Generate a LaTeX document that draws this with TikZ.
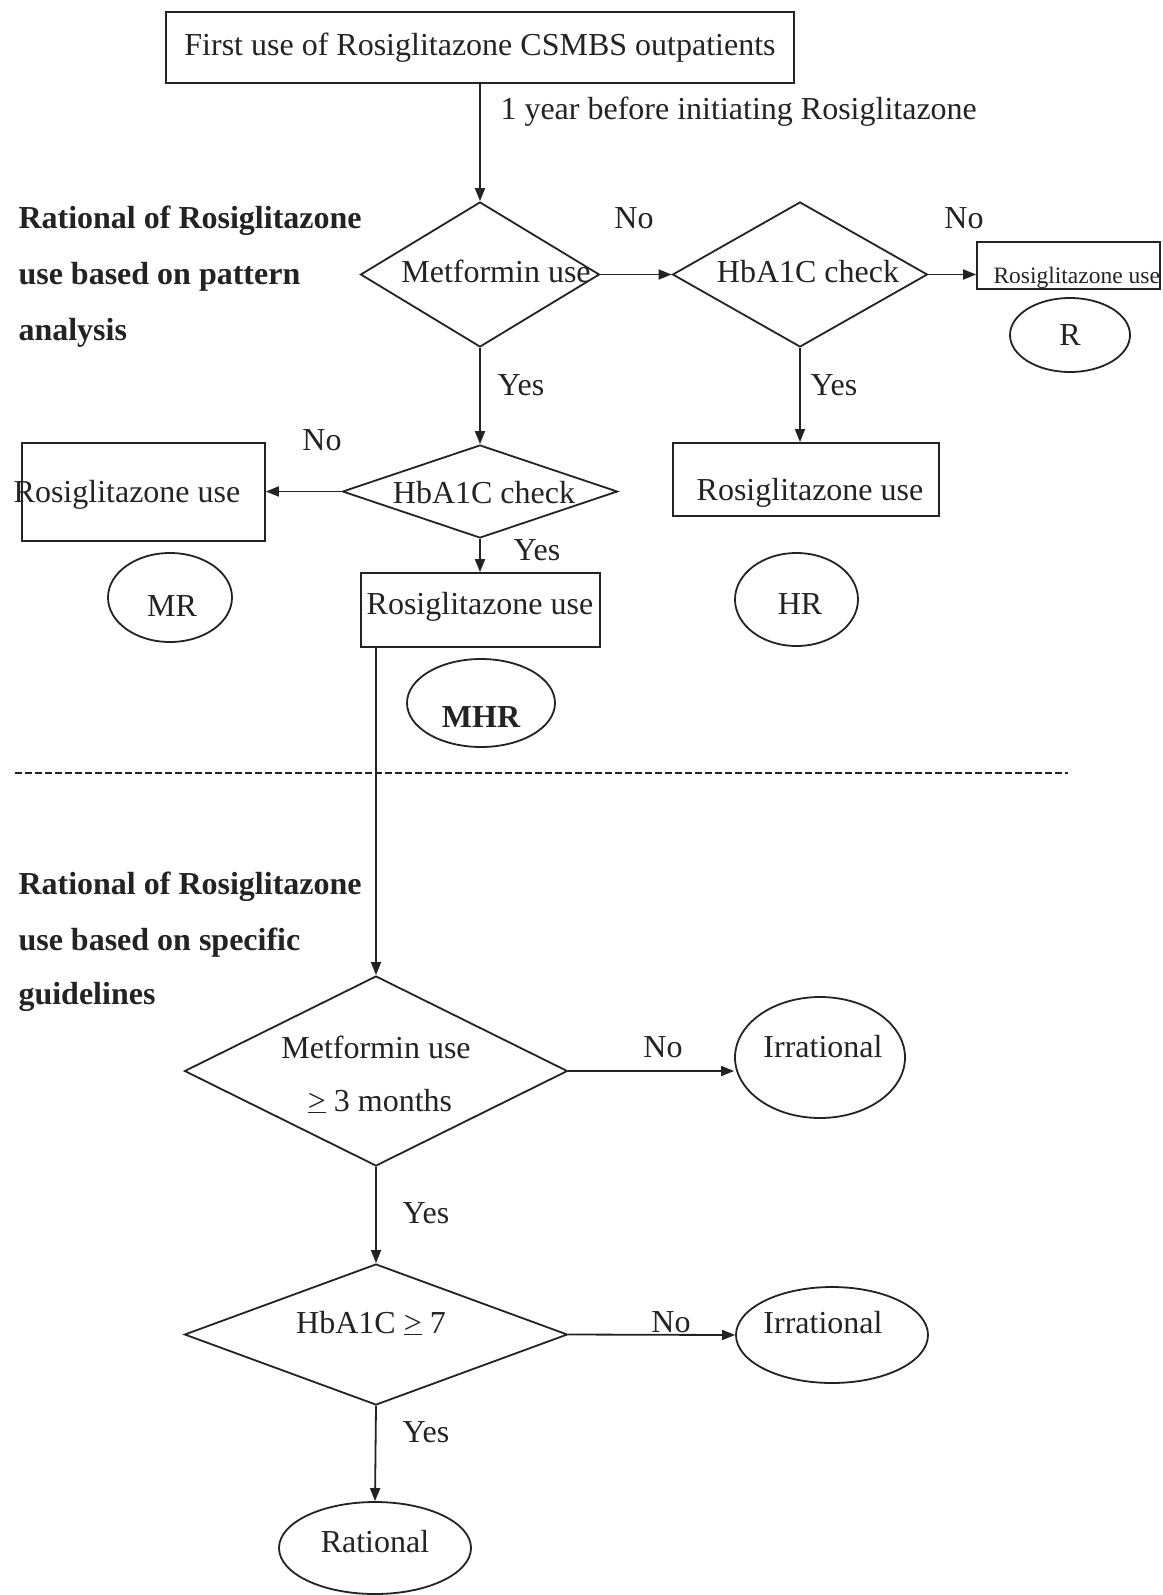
\documentclass[tikz,border=0pt]{standalone}
\usepackage{fontspec}
\setmainfont{Liberation Serif}
\usetikzlibrary{shapes.geometric,arrows.meta}
\definecolor{ink}{RGB}{35,35,35}
\begin{document}
\begin{tikzpicture}[x=1pt,y=-1pt,
  every node/.style={font=\fontsize{32}{38}\selectfont, text=ink},
  box/.style={draw=ink, line width=1.8pt, rectangle, inner sep=0pt},
  dia/.style={draw=ink, line width=1.8pt, diamond, inner sep=0pt},
  oval/.style={draw=ink, line width=1.8pt, ellipse, inner sep=0pt},
  arr/.style={draw=ink, line width=1.8pt, -{Triangle[length=13pt,width=10pt]}},
  lbl/.style={anchor=base west, font=\fontsize{32}{38}\selectfont\bfseries},
  small/.style={font=\fontsize{23.5}{28}\selectfont}]
\fill[white] (0,0) rectangle (1162,1595);
\useasboundingbox (0,0) rectangle (1162,1595);

% top part
\node[box, minimum width=628, minimum height=71] (top) at (480,47.5) {First use of Rosiglitazone CSMBS outpatients};
\node[anchor=base west] (yearlbl) at (497,119) {1 year before initiating Rosiglitazone};

\node[lbl] (l1) at (15,228) {Rational of Rosiglitazone};
\node[lbl] (l2) at (15,284) {use based on pattern};
\node[lbl] (l3) at (15,340) {analysis};

\node[dia, minimum width=239, minimum height=145] (d1) at (480,274.5) {};
\node[anchor=base] (d1t) at (496,282) {Metformin use};
\node[dia, minimum width=255, minimum height=145] (d2) at (800,274.5) {};
\node[anchor=base] (d2t) at (808,282) {HbA1C check};
\node[box, minimum width=183, minimum height=47] (rbox) at (1068.5,265.5) {};
\node[small, anchor=base west] (rboxt) at (990,283) {Rosiglitazone use};
\node[oval, minimum width=120, minimum height=74] (r) at (1070,335) {R};

\node (no1) at (634,218) {No};
\node (no2) at (964,218) {No};
\node (yes1) at (521,385) {Yes};
\node (yes2) at (834,385) {Yes};

\node[dia, minimum width=275, minimum height=93] (d3) at (480,491.5) {};
\node (d3t) at (484,493) {HbA1C check};
\node[box, minimum width=243, minimum height=98] (mrbox) at (143.5,492) {};
\node (mrboxt) at (127,495) {Rosiglitazone use};
\node[box, minimum width=266, minimum height=73] (hrbox) at (806,479.5) {};
\node (hrboxt) at (810,493) {Rosiglitazone use};
\node[box, minimum width=239, minimum height=74] (mhrbox) at (480.5,610) {};
\node (mhrboxt) at (480,607) {Rosiglitazone use};
\node (no3) at (322,440) {No};
\node (yes3) at (537,550) {Yes};

\node[oval, minimum width=124, minimum height=89] (mr) at (170,597.5) {};
\node[anchor=base] (mrt) at (172,616) {MR};
\node[oval, minimum width=123, minimum height=93] (hr) at (796.5,599.5) {};
\node[anchor=base] (hrt) at (800,614) {HR};
\node[oval, minimum width=148, minimum height=88] (mhr) at (481,703) {};
\node[anchor=base, font=\fontsize{32}{38}\selectfont\bfseries] (mhrt) at (481,727) {MHR};

\draw[arr] (top.south) -- (d1.north);
\draw[arr] (d1.east) -- (d2.west);
\draw[arr] (d2.east) -- (d2.east -| rbox.west);
\draw[arr] (d1.south) -- (d3.north);
\draw[arr] (d2.south) -- (d2.south |- hrbox.north);
\draw[arr] (d3.west) -- (d3.west -| mrbox.east);
\draw[arr] (d3.south) -- (d3.south |- mhrbox.north);

% separator
\coordinate (dl) at (15,773);
\coordinate (dr) at (1068,773);
\draw[ink, line width=1.3pt, dash pattern=on 7pt off 3pt] (dl) -- (dr);

% bottom part
\node[lbl] (l4) at (15,894) {Rational of Rosiglitazone};
\node[lbl] (l5) at (15,950) {use based on specific};
\node[lbl] (l6) at (15,1004) {guidelines};

\node[dia, minimum width=383, minimum height=190] (d4) at (376,1071) {};
\node (d4t1) at (376,1047) {Metformin use};
\node (d4t2) at (380,1101) {\underline{>} 3 months};
\node[oval, minimum width=170, minimum height=121] (irr1) at (820,1057.5) {};
\node[anchor=base] (irr1t) at (823,1057) {Irrational};
\node (no4) at (663,1047) {No};
\node (yes4) at (426,1213) {Yes};

\node[dia, minimum width=383, minimum height=141] (d5) at (376,1334.5) {};
\node (d5t) at (371,1323) {HbA1C \underline{>} 7};
\node[oval, minimum width=192, minimum height=96] (irr2) at (832,1335) {};
\node (irr2t) at (823,1323) {Irrational};
\node (no5) at (671,1322) {No};
\node (yes5) at (426,1432) {Yes};

\node[oval, minimum width=192, minimum height=92] (rat) at (375,1548) {};
\node[anchor=base] (ratt) at (375,1552) {Rational};

\draw[arr] (d4.north |- mhrbox.south) -- (d4.north);
\draw[arr] (d4.east) -- (d4.east -| irr1.west);
\draw[arr] (d4.south) -- (d5.north);
\draw[arr] (d5.east) -- (irr2.west);
\draw[arr] (d5.south) -- (rat.north);
\end{tikzpicture}
\end{document}
